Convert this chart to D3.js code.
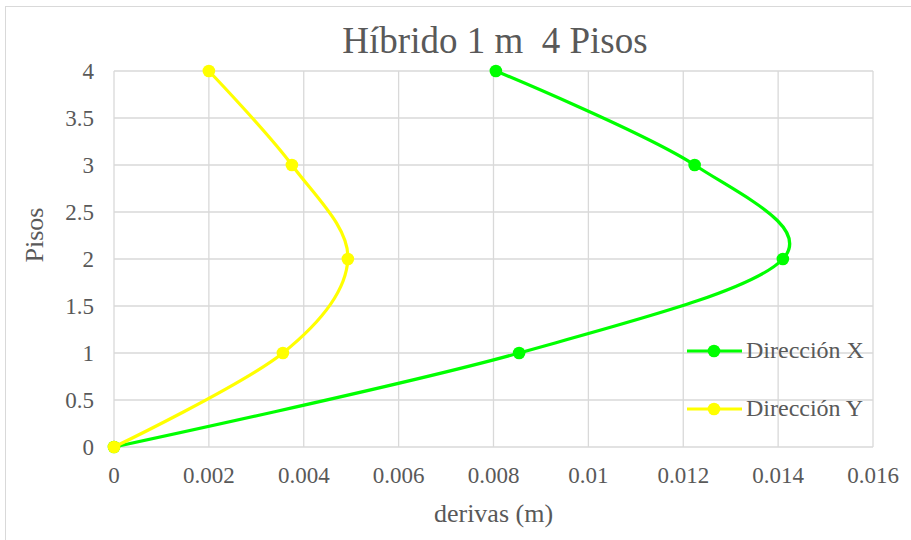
<!DOCTYPE html>
<html><head><meta charset="utf-8">
<script src="https://cdn.jsdelivr.net/npm/d3@7/dist/d3.min.js"></script>
<style>body{margin:0;background:#fff}svg{display:block}text{font-family:"Liberation Serif","DejaVu Serif",serif;fill:#595959;white-space:pre}</style>
</head><body><svg id="c" width="911" height="540"></svg>
<script>
const floors = [0, 1, 2, 3, 4];
const dirX = [0, 0.00854, 0.0141, 0.01224, 0.00805];
const dirY = [0, 0.00356, 0.00493, 0.00375, 0.0020];
const xTicks = [0, 0.002, 0.004, 0.006, 0.008, 0.01, 0.012, 0.014, 0.016];
const yTicks = [0, 0.5, 1, 1.5, 2, 2.5, 3, 3.5, 4];
const seriesNames = ["Dirección X", "Dirección Y"];
const colors = ["#00ff00", "#ffff00"];

const svg = d3.select("#c");
svg.append("rect").attr("x",5.5).attr("y",6.5).attr("width",920).attr("height",560)
  .attr("fill","#fff").attr("stroke","#d9d9d9");
const L=114,R=873,T=71,B=447;
const x = d3.scaleLinear().domain([0,0.016]).range([L,R]);
const y = d3.scaleLinear().domain([0,4]).range([B,T]);

const g = svg.append("g");
g.selectAll(".vg").data(xTicks).enter().append("line")
  .attr("x1",d=>x(d)).attr("x2",d=>x(d)).attr("y1",T).attr("y2",B)
  .attr("stroke","#d9d9d9").attr("stroke-width",1.3);
g.selectAll(".hg").data(yTicks).enter().append("line")
  .attr("y1",d=>y(d)).attr("y2",d=>y(d)).attr("x1",L).attr("x2",R)
  .attr("stroke","#d9d9d9").attr("stroke-width",1.3);

const fmt = d=>String(+d.toFixed(4));
g.selectAll(".xt").data(xTicks).enter().append("text")
  .attr("x",d=>x(d)).attr("y",483).attr("text-anchor","middle")
  .attr("font-size",23).text(fmt);
g.selectAll(".yt").data(yTicks).enter().append("text")
  .attr("x",94).attr("y",d=>y(d)+8).attr("text-anchor","end")
  .attr("font-size",23).text(fmt);

svg.append("text").attr("x",(L+R)/2).attr("y",522).attr("text-anchor","middle")
  .attr("font-size",26).text("derivas (m)");
svg.append("text").attr("transform",`translate(43,235) rotate(-90)`)
  .attr("text-anchor","middle").attr("font-size",26).text("Pisos");
svg.append("text").attr("x",495).attr("y",53).attr("text-anchor","middle")
  .attr("font-size",37).text("Híbrido 1 m  4 Pisos");

const line = d3.line().x(d=>x(d[0])).y(d=>y(d[1])).curve(d3.curveCardinal.tension(0));
[dirX, dirY].forEach((s,i)=>{
  const pts = s.map((v,k)=>[v,floors[k]]);
  svg.append("path").attr("d",line(pts)).attr("fill","none")
    .attr("stroke",colors[i]).attr("stroke-width",3.2);
  svg.selectAll(".m"+i).data(pts).enter().append("circle")
    .attr("cx",d=>x(d[0])).attr("cy",d=>y(d[1])).attr("r",6.3)
    .attr("fill",colors[i]);
});

const legY=[351,409];
seriesNames.forEach((n,i)=>{
  svg.append("line").attr("x1",687).attr("x2",742).attr("y1",legY[i]).attr("y2",legY[i])
    .attr("stroke",colors[i]).attr("stroke-width",3.2);
  svg.append("circle").attr("cx",714).attr("cy",legY[i]).attr("r",6.3).attr("fill",colors[i]);
  svg.append("text").attr("x",746).attr("y",legY[i]+7).attr("font-size",24).text(n);
});
</script></body></html>
